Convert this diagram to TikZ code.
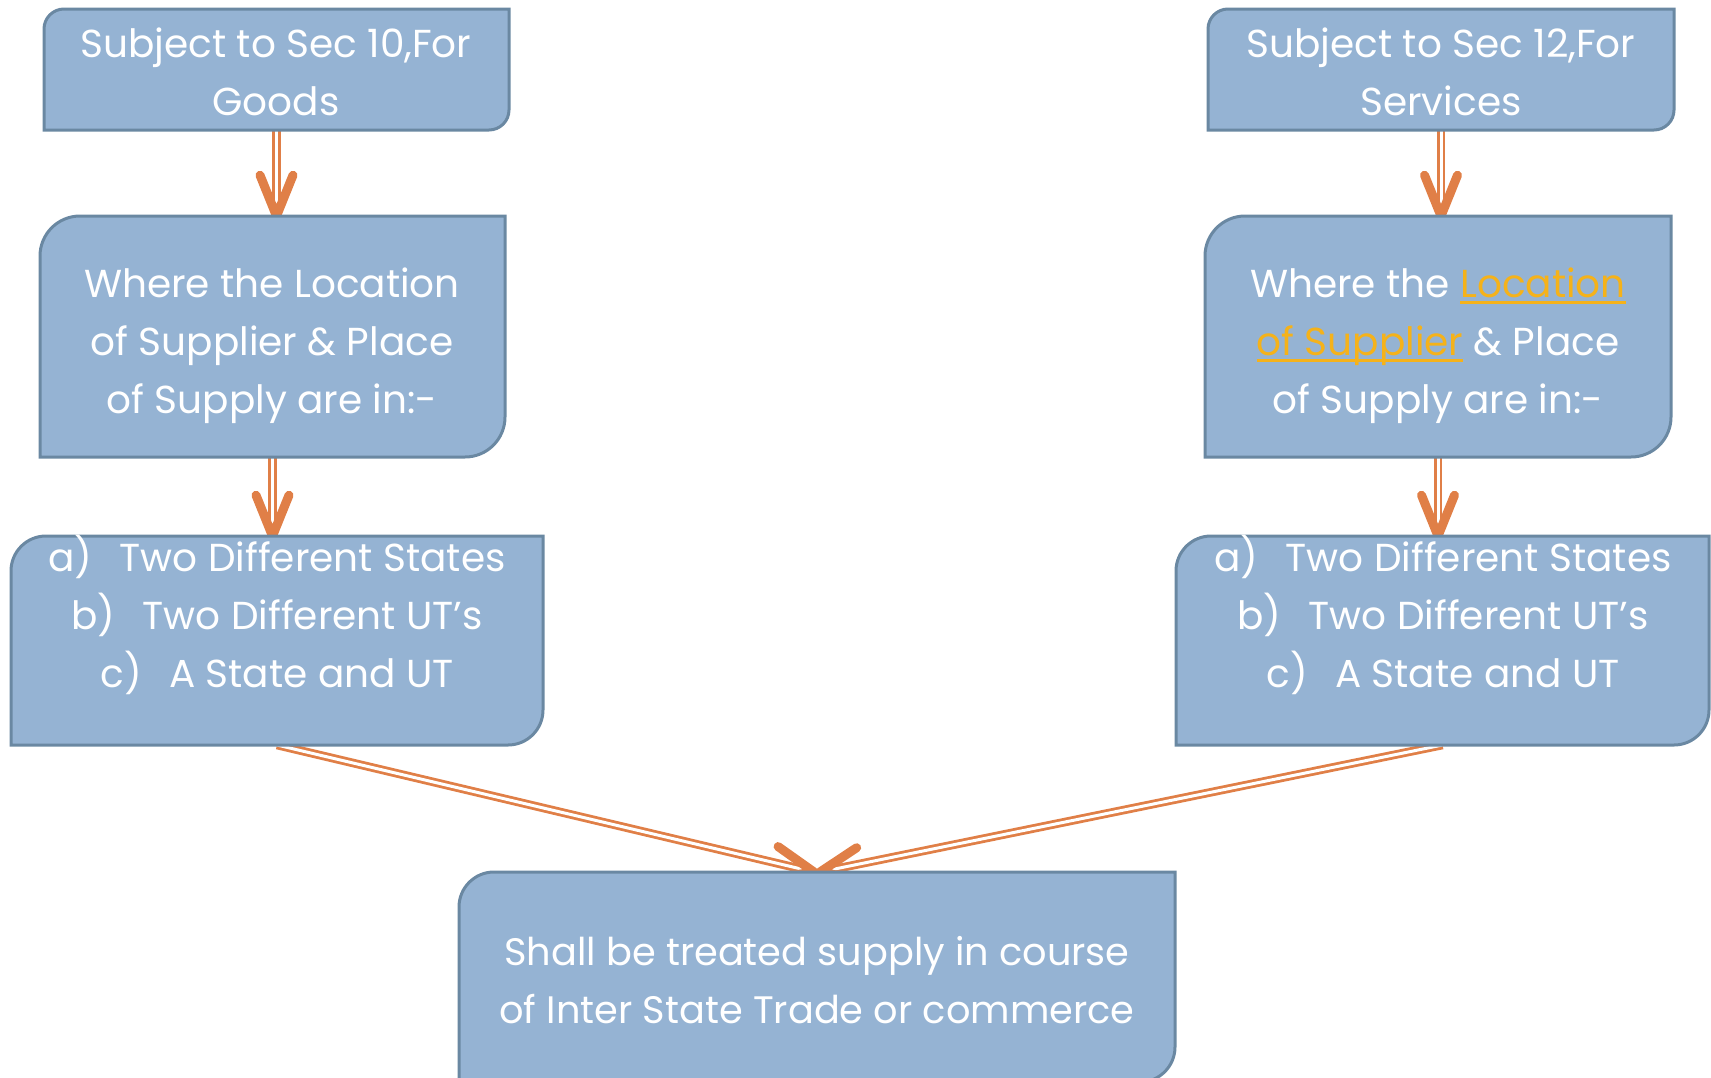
\documentclass[tikz,border=0pt]{standalone}
\usepackage{fontspec}
\setmainfont{Poppins}
\usetikzlibrary{calc}
\definecolor{boxfill}{HTML}{95B3D3}
\definecolor{boxedge}{HTML}{6A88A2}
\definecolor{arr}{HTML}{E07F47}
\definecolor{linkc}{HTML}{F5B21A}
\pgfdeclarelayer{bg}
\pgfsetlayers{bg,main}
\newcommand\diagbox[2]{\path[boxshape] (#1.north) [rounded corners=#2] -- (#1.north west) -- (#1.west) [sharp corners] -- (#1.south west) -- (#1.south) [rounded corners=#2] -- (#1.south east) -- (#1.east) [sharp corners] -- (#1.north east) -- cycle;}
\newcommand\lnk[1]{{\color{linkc}\setbox0\hbox{#1}\rlap{\rule[-0.15em]{\wd0}{0.06em}}\box0}}
\newcommand\chevron[2]{\draw[chev] ($(#1)!44pt!22:(#2)$) -- (#1) -- ($(#1)!44pt!-22:(#2)$);}
\tikzset{
  frame/.style={inner sep=0pt, outer sep=0pt, anchor=north west},
  boxshape/.style={fill=boxfill, draw=boxedge, line width=3pt},
  txt/.style={text=white, align=center, inner sep=0pt, font=\fontsize{39}{57.8}\selectfont},
  dline/.style={draw=arr, line width=2.8pt, double=white, double distance=3pt},
  chev/.style={draw=arr, line width=9pt, line cap=round, line join=round},
}
\begin{document}
\begin{tikzpicture}[x=1pt, y=-1pt]
\useasboundingbox (0,0) rectangle (1711,1077);
% frames
\node[frame, minimum width=465pt, minimum height=121pt] (b1) at (44,9) {};
\node[frame, minimum width=465pt, minimum height=241pt] (b2) at (40,216) {};
\node[frame, minimum width=532pt, minimum height=209pt] (b3) at (11,536) {};
\node[frame, minimum width=466pt, minimum height=121pt] (b4) at (1208,9) {};
\node[frame, minimum width=466pt, minimum height=241pt] (b5) at (1205,216) {};
\node[frame, minimum width=533pt, minimum height=209pt] (b6) at (1176,536) {};
\node[frame, minimum width=716pt, minimum height=210pt] (b7) at (459,872) {};
% connectors
\begin{pgfonlayer}{bg}
\coordinate (e1) at (b1.south |- b2.north);
\draw[dline] (b1.south) -- (e1);
\chevron{e1}{b1.south}
\coordinate (e2) at (b2.south |- b3.north);
\draw[dline] (b2.south) -- (e2);
\chevron{e2}{b2.south}
\coordinate (e4) at (b4.south |- b5.north);
\draw[dline] (b4.south) -- (e4);
\chevron{e4}{b4.south}
\coordinate (e5) at (b5.south |- b6.north);
\draw[dline] (b5.south) -- (e5);
\chevron{e5}{b5.south}
\coordinate (e3) at ([xshift=-3pt]b7.north);
\draw[dline] (b3.south) -- (e3);
\chevron{e3}{b3.south}
\coordinate (e6) at ([xshift=3pt]b7.north);
\draw[dline] (b6.south) -- (e6);
\chevron{e6}{b6.south}
\end{pgfonlayer}
% boxes
\diagbox{b1}{20pt}
\diagbox{b2}{40pt}
\diagbox{b3}{35pt}
\diagbox{b4}{20pt}
\diagbox{b5}{40pt}
\diagbox{b6}{35pt}
\diagbox{b7}{35pt}
% texts
\node[txt] (t1) at (276,72) {Subject to Sec 10,For\\Goods};
\node[txt] (t2) at (272,346) {Where the Location\\of Supplier \& Place\\of Supply are in:-};
\node[txt] (t3) at (277,615) {a)\hspace{0.7em}Two Different States\\b)\hspace{0.7em}Two Different UT’s\\c)\hspace{0.7em}A State and UT};
\node[txt] (t4) at (1441,72) {Subject to Sec 12,For\\Services};
\node[txt] (t5) at (1438,346) {Where the \lnk{Location}\\\lnk{of Supplier} \& Place\\of Supply are in:-};
\node[txt] (t6) at (1443,615) {a)\hspace{0.7em}Two Different States\\b)\hspace{0.7em}Two Different UT’s\\c)\hspace{0.7em}A State and UT};
\node[txt, font=\fontsize{38.3}{57.8}\selectfont] (t7) at (817,980) {Shall be treated supply in course\\of Inter State Trade or commerce};
\end{tikzpicture}
\end{document}
